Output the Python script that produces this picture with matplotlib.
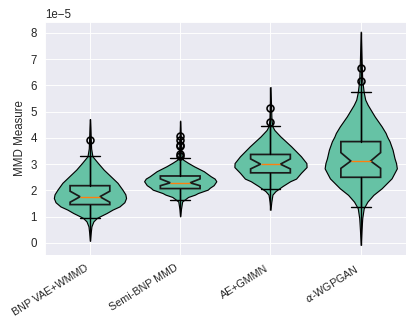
import numpy as np
import matplotlib
matplotlib.use("Agg")
import matplotlib.pyplot as plt
import seaborn as sns

sns.set_style("darkgrid")
plt.rcParams['font.family'] = ['Liberation Sans', 'DejaVu Sans']

# values in units of 1e-5
scale = 1e-5
labels = ['BNP VAE+WMMD', 'Semi-BNP MMD', 'AE+GMMN', r'$\alpha$-WGPGAN']

# violin outlines: heights and relative half-widths
v1_y = [0.08, 0.40, 0.63, 0.82, 0.95, 1.01, 1.14, 1.27, 1.39, 1.55, 1.71, 1.85,
        2.03, 2.29, 2.54, 2.79, 3.05, 3.30, 3.60, 4.00, 4.40, 4.72]
v1_w = [0, 0.8, 1.5, 3.5, 7, 10, 17, 23, 30, 35, 36.7, 36,
        33, 28, 21, 14, 8, 2.5, 1.2, 0.8, 0.4, 0]
v2_y = [1.01, 1.30, 1.58, 1.75, 1.84, 1.90, 2.03, 2.10, 2.20, 2.35, 2.45, 2.54,
        2.73, 2.92, 3.05, 3.17, 3.30, 3.60, 4.00, 4.66]
v2_w = [0, 0.8, 2, 8, 15, 18, 28, 30, 34, 36.7, 35, 31,
        24, 14, 8, 3, 1.5, 1, 0.6, 0]
v3_y = [1.26, 1.55, 1.84, 1.97, 2.16, 2.35, 2.45, 2.67, 2.89, 3.04, 3.30, 3.68,
        4.06, 4.30, 4.44, 4.70, 5.20, 5.94]
v3_w = [0, 0.8, 2, 5, 12, 20, 26, 31, 36.7, 36.5, 31, 21,
        10, 4, 2, 1, 0.6, 0]
v4_y = [-0.08, 0.50, 0.94, 1.32, 1.57, 1.83, 2.08, 2.46, 2.84, 3.04, 3.22, 3.55,
        3.87, 4.05, 4.19, 4.44, 4.82, 5.26, 5.46, 5.74, 6.20, 7.00, 8.05]
v4_w = [0, 0.8, 1.5, 3, 6.7, 12.7, 21, 31, 36.3, 35.5, 34, 32,
        29, 26.5, 25, 21, 14, 7, 4.5, 3, 1.5, 0.8, 0]

# box statistics
q1 = [1.46, 2.07, 2.67, 2.50]
med = [1.76, 2.29, 3.00, 3.12]
q3 = [2.18, 2.55, 3.37, 3.86]
whislo = [0.94, 1.63, 2.05, 1.36]
whishi = [3.30, 3.22, 4.44, 5.74]
cilo = [1.55, 2.18, 2.82, 2.84]
cihi = [1.97, 2.44, 3.20, 3.44]
fliers = [[3.93],
          [4.08, 3.92, 3.74, 3.68, 3.40, 3.33],
          [5.13, 4.62],
          [6.65, 6.18]]

green = '#66c2a5'
positions = [1, 2, 3, 4]

vpstats = []
for ys, ws in [(v1_y, v1_w), (v2_y, v2_w), (v3_y, v3_w), (v4_y, v4_w)]:
    ys = np.array(ys) * scale
    vpstats.append(dict(coords=ys, vals=np.array(ws, float),
                        mean=ys.mean(), median=np.median(ys),
                        min=ys.min(), max=ys.max()))

bxpstats = []
for i in range(4):
    bxpstats.append(dict(q1=q1[i] * scale, med=med[i] * scale, q3=q3[i] * scale,
                         whislo=whislo[i] * scale, whishi=whishi[i] * scale,
                         cilo=cilo[i] * scale, cihi=cihi[i] * scale,
                         fliers=np.array(fliers[i]) * scale))

fig = plt.figure(figsize=(5, 4), dpi=83)
ax = fig.add_axes([0.108, 0.232, 0.870, 0.702])

parts = ax.violin(vpstats, positions=positions, widths=0.8, showextrema=True)
for body in parts['bodies']:
    body.set_facecolor(green)
    body.set_edgecolor('black')
    body.set_alpha(1)
    body.set_linewidth(1.0)
parts['cmins'].set_visible(False)
parts['cmaxes'].set_visible(False)
parts['cbars'].set_color('black')
parts['cbars'].set_linewidth(1.2)
parts['cbars'].set_zorder(2.5)

bp = ax.bxp(bxpstats, positions=positions, widths=0.44, shownotches=True,
            patch_artist=True,
            boxprops=dict(facecolor=green, edgecolor='#1a1a1a', linewidth=1.5),
            medianprops=dict(color='#ff7f0e', linewidth=1.2),
            whiskerprops=dict(color='black', linewidth=1.2),
            capprops=dict(color='black', linewidth=1.2),
            flierprops=dict(marker='o', markerfacecolor='none',
                            markeredgecolor='black', markersize=6,
                            markeredgewidth=1.4))
for b in bp['boxes']:
    b.set_zorder(3)
for key in ['medians', 'whiskers', 'caps', 'fliers']:
    for ln in bp[key]:
        ln.set_zorder(4)

ax.set_xlim(0.5, 4.5)
ax.set_ylim(-0.46 * scale, 8.42 * scale)
ax.set_xticks(positions)
ax.set_xticklabels(labels, rotation=32, ha='right', fontsize=9.3)
ax.set_ylabel('MMD Measure')

fig.savefig('out.png', dpi=83)
